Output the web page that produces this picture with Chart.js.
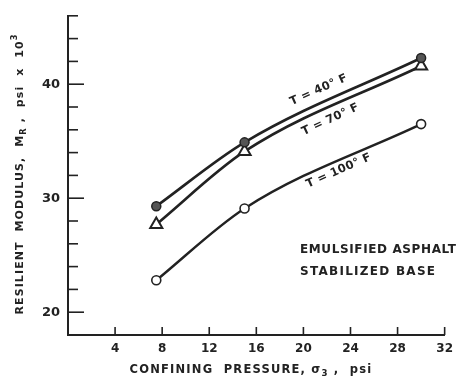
<!DOCTYPE html>
<html>
<head>
<meta charset="utf-8">
<script src="https://cdn.jsdelivr.net/npm/chart.js@4/dist/chart.umd.min.js"></script>
<style>
  html, body { margin: 0; padding: 0; background: #fff; }
  #wrap { width: 460px; height: 382px; position: relative; }
</style>
</head>
<body>
<div id="wrap"><canvas id="chart"></canvas></div>
<script>
// confining pressure, psi
var pressure = [7.5, 15, 30];
// resilient modulus, psi x 10^3
var mr40F = [29.3, 34.9, 42.3];
var mr70F = [27.7, 34.1, 41.6];
var mr100F = [22.8, 29.1, 36.5];
var seriesNames = ['T = 40° F', 'T = 70° F', 'T = 100° F'];
var xTicks = [4, 8, 12, 16, 20, 24, 28, 32];
var yLabelTicks = [20, 30, 40];
var yMinorTicks = [20, 22, 24, 26, 28, 30, 32, 34, 36, 38, 40, 42, 44, 46];
var noteLines = ['EMULSIFIED ASPHALT', 'STABILIZED BASE'];

var ink = '#222';
var font = '"DejaVu Sans", sans-serif';

function pts(ys) {
    return pressure.map(function (x, i) { return { x: x, y: ys[i] }; });
}

// inward ticks on both axes
var insideTicks = {
    id: 'insideTicks',
    afterDraw: function (chart) {
        var ctx = chart.ctx;
        var xs = chart.scales.x, ys = chart.scales.y;
        var a = chart.chartArea;
        ctx.save();
        ctx.strokeStyle = ink;
        ctx.lineWidth = 1.6;
        xTicks.forEach(function (v) {
            var px = xs.getPixelForValue(v);
            ctx.beginPath();
            ctx.moveTo(px, a.bottom);
            ctx.lineTo(px, a.bottom - 8);
            ctx.stroke();
        });
        yMinorTicks.forEach(function (v) {
            var py = ys.getPixelForValue(v);
            var len = yLabelTicks.indexOf(v) >= 0 ? 16 : 10;
            ctx.beginPath();
            ctx.moveTo(a.left, py);
            ctx.lineTo(a.left + len, py);
            ctx.stroke();
        });
        ctx.restore();
    }
};

// draws text made of parts: [text, 'n'|'sub'|'sup']
function drawParts(ctx, parts, cx, cy, size, spacing) {
    ctx.letterSpacing = spacing + 'px';
    var widths = parts.map(function (p) {
        ctx.font = 'bold ' + (p[1] === 'n' ? size : size * 0.75) + 'px ' + font;
        return ctx.measureText(p[0]).width;
    });
    var total = widths.reduce(function (s, w) { return s + w; }, 0);
    var x = cx - total / 2;
    parts.forEach(function (p, i) {
        var sz = p[1] === 'n' ? size : size * 0.75;
        var dy = p[1] === 'sub' ? size * 0.35 : (p[1] === 'sup' ? -size * 0.45 : 0);
        ctx.font = 'bold ' + sz + 'px ' + font;
        ctx.fillText(p[0], x, cy + dy);
        x += widths[i];
    });
    ctx.letterSpacing = '0px';
}

// text squeezed or spread to a given width
function fitText(ctx, text, x, y, width) {
    ctx.letterSpacing = '0px';
    var w = ctx.measureText(text).width;
    var sp = (width - w) / (text.length - 1);
    ctx.letterSpacing = sp + 'px';
    ctx.fillText(text, x, y);
    ctx.letterSpacing = '0px';
}

var annotations = {
    id: 'annotations',
    afterDraw: function (chart) {
        var ctx = chart.ctx;
        var xs = chart.scales.x, ys = chart.scales.y;
        ctx.save();
        ctx.fillStyle = ink;
        ctx.textBaseline = 'middle';
        ctx.textAlign = 'left';

        // axis titles
        drawParts(ctx, [['CONFINING  PRESSURE, σ', 'n'], ['3', 'sub'], [' ,  psi', 'n']],
            251, 370, 11.5, 1.2);
        ctx.save();
        ctx.translate(20, 174);
        ctx.rotate(-Math.PI / 2);
        drawParts(ctx, [['RESILIENT  MODULUS,  M', 'n'], ['R', 'sub'], [' ,  psi  x  10', 'n'], ['3', 'sup']],
            0, 0, 11, 1.1);
        ctx.restore();

        // curve labels, placed along each curve
        var labelPos = [[21.3, 39.5, -24], [22.3, 36.9, -25], [23.0, 32.4, -24]];
        labelPos.forEach(function (lp, i) {
            ctx.save();
            ctx.translate(xs.getPixelForValue(lp[0]), ys.getPixelForValue(lp[1]));
            ctx.rotate(lp[2] * Math.PI / 180);
            ctx.textAlign = 'center';
            ctx.font = 'bold 11.5px ' + font;
            ctx.letterSpacing = '0.3px';
            ctx.fillText(seriesNames[i], 0, 0);
            ctx.restore();
        });

        // note
        ctx.font = 'bold 12px ' + font;
        fitText(ctx, noteLines[0], 300, 250, 156);
        fitText(ctx, noteLines[1], 300, 272, 135);
        ctx.restore();
    }
};

new Chart(document.getElementById('chart'), {
    type: 'line',
    data: {
        datasets: [{
            label: seriesNames[0],
            data: pts(mr40F),
            borderColor: ink,
            borderWidth: 2.6,
            pointStyle: 'circle',
            pointRadius: 4.5,
            pointBackgroundColor: '#555',
            pointBorderColor: ink,
            pointBorderWidth: 1.5
        }, {
            label: seriesNames[1],
            data: pts(mr70F),
            borderColor: ink,
            borderWidth: 2.6,
            pointStyle: 'triangle',
            pointRadius: 7,
            pointBackgroundColor: '#fff',
            pointBorderColor: ink,
            pointBorderWidth: 2
        }, {
            label: seriesNames[2],
            data: pts(mr100F),
            borderColor: ink,
            borderWidth: 2.4,
            pointStyle: 'circle',
            pointRadius: 4.5,
            pointBackgroundColor: '#fff',
            pointBorderColor: ink,
            pointBorderWidth: 1.6
        }]
    },
    options: {
        responsive: true,
        maintainAspectRatio: false,
        animation: false,
        clip: false,
        elements: { line: { cubicInterpolationMode: 'monotone' } },
        layout: { padding: { top: 12, right: 13, left: 0, bottom: 0 } },
        plugins: { legend: { display: false }, tooltip: { enabled: false } },
        scales: {
            x: {
                type: 'linear',
                min: 0,
                max: 32,
                afterFit: function (s) { s.height = 47; },
                afterBuildTicks: function (s) {
                    s.ticks = xTicks.map(function (v) { return { value: v }; });
                },
                grid: { display: true, drawOnChartArea: false, drawTicks: false, color: 'rgba(0,0,0,0)' },
                border: { display: true, color: ink, width: 2 },
                ticks: {
                    padding: 7,
                    color: ink,
                    font: { family: font, size: 12, weight: 'bold' },
                    maxRotation: 0
                }
            },
            y: {
                min: 18,
                max: 46,
                afterFit: function (s) { s.width = 68; },
                afterBuildTicks: function (s) {
                    s.ticks = yLabelTicks.map(function (v) { return { value: v }; });
                },
                grid: { display: true, drawOnChartArea: false, drawTicks: false, color: 'rgba(0,0,0,0)' },
                border: { display: true, color: ink, width: 2 },
                ticks: {
                    padding: 8,
                    color: ink,
                    font: { family: font, size: 13, weight: 'bold' }
                }
            }
        }
    },
    plugins: [insideTicks, annotations]
});
</script>
</body>
</html>
